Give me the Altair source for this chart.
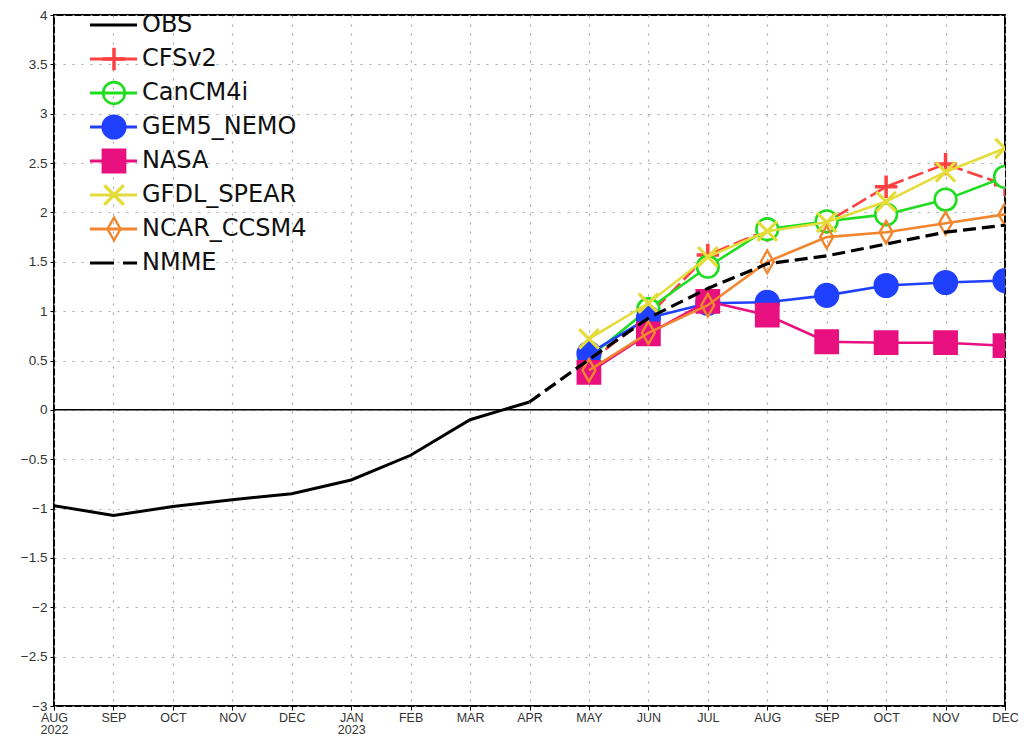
import altair as alt
import pandas as pd

# ---------------- data ----------------
month_labels = ["AUG", "SEP", "OCT", "NOV", "DEC", "JAN", "FEB", "MAR", "APR",
                "MAY", "JUN", "JUL", "AUG", "SEP", "OCT", "NOV", "DEC"]
year_labels = {0: "2022", 5: "2023"}
y_ticks = [-3, -2.5, -2, -1.5, -1, -0.5, 0, 0.5, 1, 1.5, 2, 2.5, 3, 3.5, 4]

obs_idx = [0, 1, 2, 3, 4, 5, 6, 7, 8]
obs_val = [-0.97, -1.07, -0.98, -0.91, -0.85, -0.71, -0.46, -0.10, 0.08]

fc_idx = [9, 10, 11, 12, 13, 14, 15, 16]
cfsv2 = [0.48, 0.95, 1.57, 1.82, 1.90, 2.26, 2.49, 2.28]
cancm4i = [0.53, 1.02, 1.45, 1.83, 1.91, 1.98, 2.13, 2.36]
gem5 = [0.57, 0.93, 1.08, 1.09, 1.16, 1.26, 1.29, 1.31]
nasa = [0.38, 0.77, 1.10, 0.96, 0.69, 0.68, 0.68, 0.65]
gfdl = [0.72, 1.08, 1.55, 1.81, 1.90, 2.11, 2.41, 2.65]
ncar = [0.40, 0.78, 1.06, 1.50, 1.75, 1.80, 1.89, 1.98]

nmme_idx = [8, 9, 10, 11, 12, 13, 14, 15, 16]
nmme = [0.08, 0.51, 0.93, 1.23, 1.48, 1.56, 1.68, 1.80, 1.87]

series_names = ["OBS", "CFSv2", "CanCM4i", "GEM5_NEMO", "NASA", "GFDL_SPEAR", "NCAR_CCSM4", "NMME"]
series_colors = ["#000000", "#ff4040", "#1edc1e", "#2040ff", "#e8107e", "#e4dc3a", "#f2862e", "#000000"]

# marker styles (None = no marker)
PLUS = "M-1,0L1,0M0,-1L0,1"
XMARK = "M-1,-1L1,1M1,-1L-1,1"
DIAM = "M0,-1.4L0.8,0L0,1.4L-0.8,0Z"
series_shapes = [None, PLUS, "circle", "circle", "square", XMARK, DIAM, None]
series_fill = [None, "transparent", "white", "#2040ff", "#e8107e", "transparent", "transparent", None]
series_size = [0, 500, 470, 520, 500, 380, 260, 0]
series_mstroke = [0, 3.5, 2.6, 2.4, 2.4, 3.2, 2.4, 0]
series_dash = [None, [16, 5], None, None, None, None, None, [13, 6]]
series_width = [3, 2.6, 2.6, 2.6, 2.6, 2.6, 2.6, 3.2]

FONT_AX = "Liberation Sans Narrow, Liberation Sans, Arial"
Y_DOMAIN = [-3, 4]

# ---------------- axes ----------------
label_expr = "[" + ",".join(
    ("['%s','%s']" % (lab, year_labels[k])) if k in year_labels else "'%s'" % lab
    for k, lab in enumerate(month_labels)
) + "][datum.value]"

X_AXIS = alt.Axis(values=list(range(17)), labelExpr=label_expr, title=None,
                  grid=True, gridDash=[2, 7], gridColor="#a8a8a8", gridWidth=1.2,
                  tickSize=4, tickColor="#000", labelFontSize=12.5, labelFont=FONT_AX,
                  labelColor="#333", labelPadding=1, labelOverlap=False,
                  labelFlush=False, labelLineHeight=12.5, domain=False)
Y_AXIS = alt.Axis(values=y_ticks, format="~g", title=None,
                  grid=True, gridDash=[2, 7], gridColor="#a8a8a8", gridWidth=1.2,
                  tickSize=4, tickColor="#000", labelFontSize=13.5, labelFont=FONT_AX,
                  labelColor="#333", labelPadding=3, labelOverlap=False,
                  labelFlush=False, domain=False)
X_SCALE = alt.Scale(domain=[0, 16], nice=False, zero=False)
Y_SCALE = alt.Scale(domain=Y_DOMAIN, nice=False, zero=False)


def x_enc():
    return alt.X("m:Q", scale=X_SCALE, axis=X_AXIS)


def y_enc():
    return alt.Y("v:Q", scale=Y_SCALE, axis=Y_AXIS)


def series_layers(i, idx, vals):
    df = pd.DataFrame({"m": idx, "v": vals})
    color = series_colors[i]
    line_kwargs = dict(color=color, strokeWidth=series_width[i], clip=True)
    if series_dash[i]:
        line_kwargs["strokeDash"] = series_dash[i]
    layers = [alt.Chart(df).mark_line(**line_kwargs).encode(x=x_enc(), y=y_enc())]
    if series_shapes[i] is not None:
        layers.append(
            alt.Chart(df).mark_point(
                shape=series_shapes[i], size=series_size[i], filled=False,
                stroke=color, fill=series_fill[i], strokeWidth=series_mstroke[i],
                opacity=1, clip=True,
            ).encode(x=x_enc(), y=y_enc())
        )
    return layers


zero_df = pd.DataFrame({"v": [0], "m": [0]})
zero_line = alt.Chart(zero_df).mark_rule(color="#000", strokeWidth=1.5).encode(y=y_enc())

main_layers = [zero_line]
main_layers += series_layers(0, obs_idx, obs_val)
for i, vals in zip(range(1, 7), [cfsv2, cancm4i, gem5, nasa, gfdl, ncar]):
    main_layers += series_layers(i, fc_idx, vals)
main_layers += series_layers(7, nmme_idx, nmme)

main = alt.layer(*main_layers)

# ---------------- in-plot legend ----------------
leg_df = pd.DataFrame({
    "row": list(range(len(series_names))),
    "name": series_names,
    "color": series_colors,
    "shape": [s if s else "circle" for s in series_shapes],
    "fill": [f if f not in (None, "white") else "transparent" for f in series_fill],
    "size": series_size,
    "sw": series_mstroke,
    "dash": ["dash" if n == "NMME" else "solid" for n in series_names],
})
ly = alt.Y("row:Q", scale=alt.Scale(domain=[0, 7], range=[10, 248]), axis=None)

leg_solid = alt.Chart(leg_df).transform_filter("datum.dash == 'solid'").mark_rule(strokeWidth=3.2).encode(
    x=alt.value(36), x2=alt.value(83), y=ly, color=alt.Color("color:N", scale=None))
leg_dash = alt.Chart(leg_df).transform_filter("datum.dash == 'dash'").mark_rule(
    strokeWidth=3.2, strokeDash=[24, 9]).encode(
    x=alt.value(36), x2=alt.value(83), y=ly, color=alt.Color("color:N", scale=None))
leg_pts = alt.Chart(leg_df).transform_filter("datum.size > 0").mark_point(
    filled=False, opacity=1).encode(
    x=alt.value(60), y=ly,
    shape=alt.Shape("shape:N", scale=None),
    stroke=alt.Stroke("color:N", scale=None),
    fill=alt.Fill("fill:N", scale=None),
    size=alt.Size("size:Q", scale=None),
    strokeWidth=alt.StrokeWidth("sw:Q", scale=None),
)
leg_txt = alt.Chart(leg_df).mark_text(align="left", baseline="middle", fontSize=24,
                                      font="DejaVu Sans", color="#111").encode(
    x=alt.value(88), y=ly, text="name:N")

legend = alt.layer(leg_solid, leg_dash, leg_pts, leg_txt)

chart = alt.layer(main, legend).resolve_scale(y="independent").properties(
    width=951, height=691,
    autosize=alt.AutoSizeParams(type="none"),
    padding={"left": 46, "top": 7, "right": 14, "bottom": 30},
    background="white",
).configure_view(stroke="#000", strokeWidth=2)

chart.save("out.html", embed_options={"renderer": "svg", "actions": False})
